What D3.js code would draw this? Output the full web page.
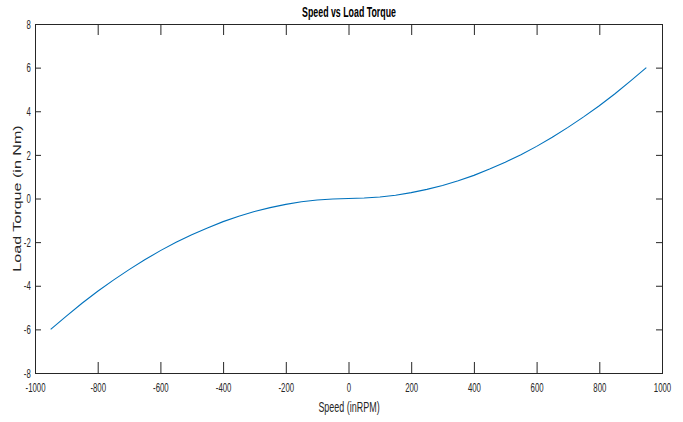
<!DOCTYPE html>
<meta charset="utf-8">
<script src="https://d3js.org/d3.v7.min.js"></script>
<style>
  body { margin: 0; background: #fff; }
  text { font-family: "Liberation Sans", Arial, sans-serif; }
</style>
<div id="chart"></div>
<script>
    // speed (RPM) and load torque (Nm)
    const speed = [-950, -900, -850, -800, -750, -700, -650, -600, -550, -500, -450, -400, -350, -300, -250, -200, -150, -100, -50,
                   0, 50, 100, 150, 200, 250, 300, 350, 400, 450, 500, 550, 600, 650, 700, 750, 800, 850, 900, 950];
    const torque = [-6.00, -5.39, -4.80, -4.25, -3.74, -3.26, -2.81, -2.39, -2.01, -1.66, -1.35, -1.06, -0.81, -0.60, -0.42, -0.27, -0.15, -0.07, -0.02,
                    0.00, 0.02, 0.07, 0.15, 0.27, 0.42, 0.60, 0.81, 1.06, 1.35, 1.66, 2.01, 2.39, 2.81, 3.26, 3.74, 4.25, 4.80, 5.39, 6.00];
    const xTicks = [-1000, -800, -600, -400, -200, 0, 200, 400, 600, 800, 1000];
    const yTicks = [-8, -6, -4, -2, 0, 2, 4, 6, 8];

    const W = 683, H = 422;
    const plot = {left: 35, right: 662, top: 24, bottom: 373};
    const axisColor = "#262626";

    const svg = d3.select("#chart").append("svg")
        .attr("width", W)
        .attr("height", H);

    const x = d3.scaleLinear().domain([-1000, 1000]).range([plot.left, plot.right]);
    const y = d3.scaleLinear().domain([-8, 8]).range([plot.bottom, plot.top]);

    // box
    svg.append("rect")
        .attr("x", plot.left + 0.5).attr("y", plot.top + 0.5)
        .attr("width", plot.right - plot.left).attr("height", plot.bottom - plot.top)
        .attr("fill", "none").attr("stroke", axisColor).attr("stroke-width", 1);

    function styleAxis(g) {
        g.select(".domain").remove();
        g.selectAll("line").attr("stroke", axisColor).attr("stroke-width", 1);
        g.selectAll("text").attr("fill", axisColor).style("font-size", "13px");
    }

    // plain number labels, hyphen minus, no thousands comma
    const plain = d => String(d);

    // bottom axis with labels
    svg.append("g")
        .attr("transform", `translate(0, ${plot.bottom})`)
        .call(d3.axisBottom(x).tickValues(xTicks).tickSize(-11).tickPadding(10).tickFormat(plain))
        .call(styleAxis)
        .call(g => g.selectAll("text").attr("transform", "scale(0.6,1)"));

    // top axis, ticks only
    svg.append("g")
        .attr("transform", `translate(0, ${plot.top})`)
        .call(d3.axisTop(x).tickValues(xTicks).tickSize(-11).tickFormat(""))
        .call(styleAxis);

    // left axis with labels
    svg.append("g")
        .attr("transform", `translate(${plot.left}, 0)`)
        .call(d3.axisLeft(y).tickValues(yTicks).tickSize(-6).tickPadding(7).tickFormat(plain))
        .call(styleAxis)
        .call(g => g.selectAll("text").attr("transform", "scale(0.6,1)"));

    // right axis, ticks only
    svg.append("g")
        .attr("transform", `translate(${plot.right}, 0)`)
        .call(d3.axisRight(y).tickValues(yTicks).tickSize(-6).tickFormat(""))
        .call(styleAxis);

    // curve
    const line = d3.line()
        .x((d, i) => x(speed[i]))
        .y(d => y(d));

    svg.append("path")
        .datum(torque)
        .attr("d", line)
        .attr("fill", "none")
        .attr("stroke", "#0072BD")
        .attr("stroke-width", 1.1);

    // title
    svg.append("text")
        .attr("transform", `translate(${(plot.left + plot.right) / 2 + 0.5}, 17) scale(0.63,1)`)
        .attr("text-anchor", "middle")
        .style("font-size", "14px")
        .style("font-weight", "bold")
        .attr("fill", "#000")
        .text("Speed vs Load Torque");

    // x label
    svg.append("text")
        .attr("transform", `translate(${(plot.left + plot.right) / 2 + 0.5}, 412) scale(0.64,1)`)
        .attr("text-anchor", "middle")
        .style("font-size", "14px")
        .attr("fill", axisColor)
        .text("Speed (inRPM)");

    // y label
    svg.append("text")
        .attr("transform", `translate(21, ${(plot.top + plot.bottom) / 2}) rotate(-90) scale(1.4,1)`)
        .attr("text-anchor", "middle")
        .style("font-size", "11.5px")
        .attr("fill", axisColor)
        .text("Load Torque (in Nm)");
</script>
